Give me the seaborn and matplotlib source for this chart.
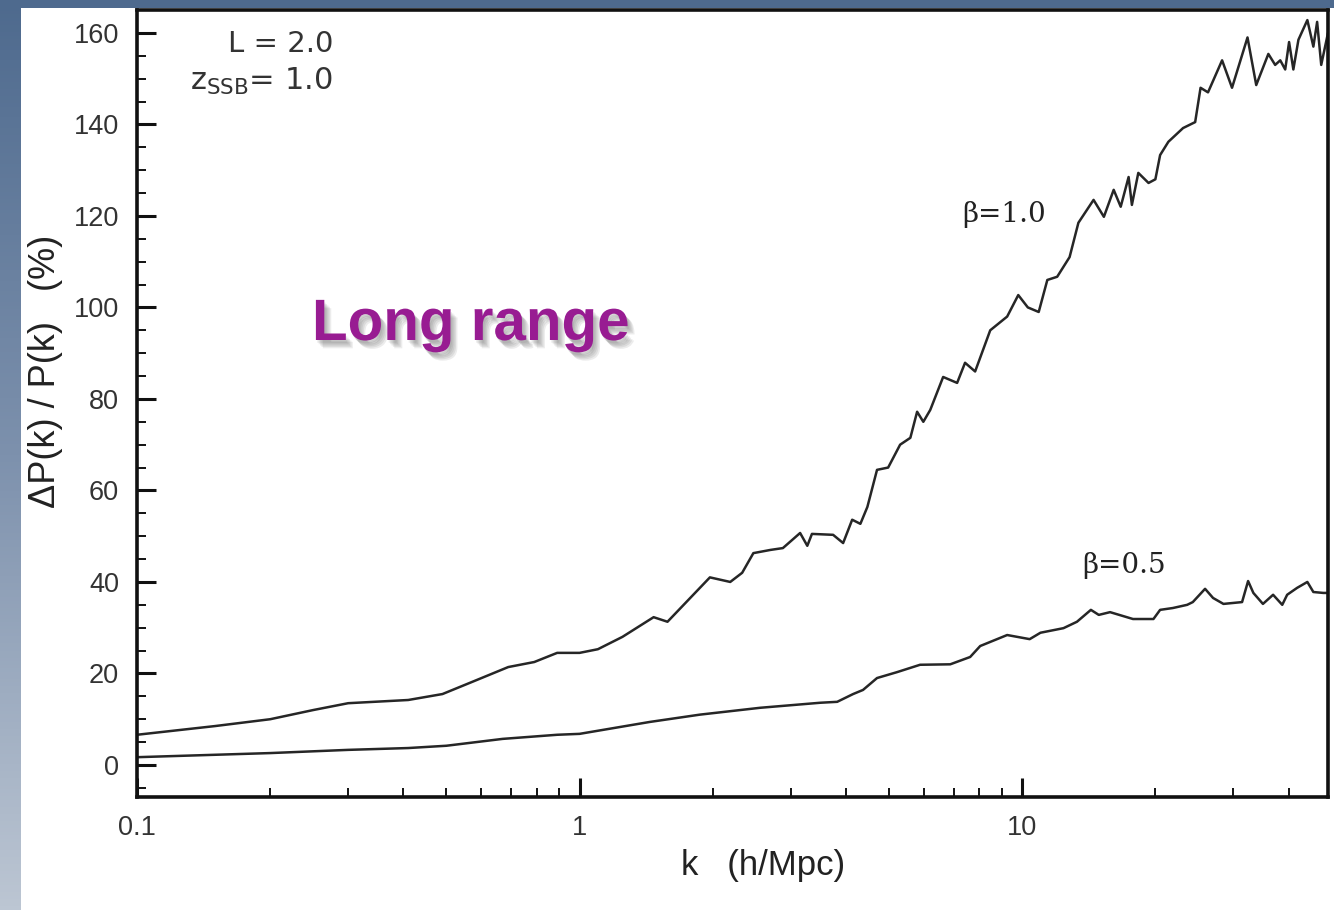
import numpy as np
import pandas as pd
import matplotlib
matplotlib.use("Agg")
import matplotlib.pyplot as plt
import matplotlib.ticker as mticker
import matplotlib.patheffects as pe
from matplotlib.patches import Rectangle
from matplotlib.colors import LinearSegmentedColormap
import seaborn as sns

# ---------------- data ----------------
k_beta10 = [0.10, 0.15, 0.20, 0.25, 0.30, 0.41, 0.49, 0.57, 0.69, 0.79, 0.89, 1.00,
            1.10, 1.25, 1.47, 1.58, 1.97, 2.19, 2.33, 2.47, 2.70, 2.88, 3.15, 3.27,
            3.35, 3.74, 3.94, 4.13, 4.31, 4.47, 4.70, 4.98, 5.30, 5.59, 5.79, 5.98,
            6.20, 6.63, 7.13, 7.43, 7.83, 8.47, 9.25, 9.80, 10.3, 10.9, 11.4, 12.0,
            12.8, 13.4, 14.5, 15.3, 16.1, 16.7, 17.4, 17.7, 18.3, 19.3, 20.0, 20.5,
            21.4, 23.1, 24.6, 25.3, 26.3, 28.3, 29.8, 32.3, 33.8, 36.0, 37.3, 38.3,
            39.3, 40.1, 41.0, 42.1, 44.1, 45.5, 46.4, 47.4, 49.1]
dp_beta10 = [6.6, 8.5, 10.0, 12.0, 13.5, 14.2, 15.5, 18.1, 21.4, 22.5, 24.5, 24.5,
             25.3, 28.0, 32.3, 31.3, 41.0, 40.0, 42.0, 46.3, 47.0, 47.4, 50.7, 47.9,
             50.5, 50.3, 48.5, 53.6, 52.7, 56.4, 64.5, 65.0, 70.0, 71.5, 77.2, 75.0,
             77.6, 84.8, 83.5, 87.9, 86.0, 95.0, 98.0, 102.7, 100.0, 99.0, 106.0, 106.7,
             111.0, 118.5, 123.5, 119.8, 125.7, 122.0, 128.5, 122.4, 129.4, 127.2, 128.0, 133.3,
             136.2, 139.2, 140.5, 148.0, 147.0, 154.0, 148.0, 159.0, 148.6, 155.4, 153.0, 154.0,
             152.0, 158.0, 152.0, 158.5, 162.8, 157.0, 162.4, 153.0, 160.0]

k_beta05 = [0.10, 0.20, 0.30, 0.41, 0.50, 0.67, 0.89, 1.00, 1.44, 1.87, 2.56, 3.50,
            3.82, 4.15, 4.37, 4.70, 5.22, 5.88, 6.88, 7.63, 8.04, 9.25, 10.4, 11.0,
            12.4, 13.3, 14.3, 14.9, 15.8, 17.8, 19.8, 20.5, 21.9, 23.6, 24.3, 25.9,
            27.0, 28.5, 31.4, 32.4, 33.3, 35.0, 36.9, 38.7, 39.7, 41.8, 44.1, 45.5,
            47.9, 49.1]
dp_beta05 = [1.7, 2.6, 3.3, 3.7, 4.2, 5.7, 6.6, 6.8, 9.4, 11.0, 12.5, 13.6,
             13.8, 15.5, 16.4, 19.0, 20.3, 21.9, 22.0, 23.6, 26.0, 28.4, 27.5, 28.9,
             29.9, 31.3, 33.9, 32.8, 33.4, 31.9, 31.9, 33.9, 34.3, 35.0, 35.6, 38.5,
             36.5, 35.2, 35.6, 40.2, 37.6, 35.2, 37.2, 35.0, 37.2, 38.7, 40.0, 37.8,
             37.6, 37.6]

series_labels = ["β=1.0", "β=0.5"]
label_k = [7.31, 13.7]
label_dp = [118.7, 42.0]

x_tick_values = [0.1, 1, 10]
x_tick_labels = ["0.1", "1", "10"]
y_tick_values = [0, 20, 40, 60, 80, 100, 120, 140, 160]
y_tick_labels = ["0", "20", "40", "60", "80", "100", "120", "140", "160"]

x_label = "k   (h/Mpc)"
y_label = "ΔP(k) / P(k)   (%)"
param_line1 = "L = 2.0"
param_line2 = r"z$_{\mathrm{SSB}}$= 1.0"
overlay_text = "Long range"

# ---------------- figure ----------------
sns.set_theme(style="ticks")
plt.rcParams['font.family'] = ['Liberation Sans', 'DejaVu Sans']

W, H, DPI = 1334, 910, 100
fig = plt.figure(figsize=(W / DPI, H / DPI), dpi=DPI)


def fx(x):
    return x / W


def fy(y):
    return 1 - y / H


# slide background: blue gradient with white panel
bg = fig.add_axes([0, 0, 1, 1], zorder=-10)
grad = np.linspace(0, 1, 256).reshape(-1, 1)
cmap = LinearSegmentedColormap.from_list('bg', ['#4e6a8e', '#7d91ad', '#bcc6d3'])
bg.imshow(grad, aspect='auto', cmap=cmap, extent=[0, W, H, 0])
bg.add_patch(Rectangle((21, 8), W - 21, H - 8, facecolor='white', edgecolor='none'))
bg.set_xlim(0, W)
bg.set_ylim(H, 0)
bg.axis('off')

ax = fig.add_axes([fx(137), fy(797), (1328 - 137) / W, (797 - 10) / H])
ax.set_facecolor('white')

df = pd.concat([
    pd.DataFrame({'k': k_beta10, 'dp': dp_beta10, 'beta': series_labels[0]}),
    pd.DataFrame({'k': k_beta05, 'dp': dp_beta05, 'beta': series_labels[1]}),
])
sns.lineplot(data=df, x='k', y='dp', hue='beta',
             palette={series_labels[0]: '#262626', series_labels[1]: '#262626'},
             estimator=None, sort=False, legend=False, linewidth=1.8, ax=ax)
for ln in ax.lines:
    ln.set_solid_joinstyle('round')

ax.set_xscale('log')
ax.set_xlim(0.1, 49.1)
ax.set_ylim(-7, 165)

ax.xaxis.set_major_locator(mticker.FixedLocator(x_tick_values))
ax.xaxis.set_major_formatter(mticker.FixedFormatter(x_tick_labels))
ax.xaxis.set_minor_locator(mticker.LogLocator(base=10, subs=np.arange(2, 10), numticks=20))
ax.xaxis.set_minor_formatter(mticker.NullFormatter())
ax.yaxis.set_major_locator(mticker.FixedLocator(y_tick_values))
ax.yaxis.set_major_formatter(mticker.FixedFormatter(y_tick_labels))
ax.yaxis.set_minor_locator(mticker.MultipleLocator(5))

ax.tick_params(which='major', direction='in', length=14, width=2.2, color='#111111',
               labelsize=19.5, labelcolor='#333333', pad=13)
ax.tick_params(which='minor', direction='in', length=6.5, width=1.4, color='#111111')
ax.tick_params(top=False, right=False, which='both')

for s in ax.spines.values():
    s.set_visible(True)
    s.set_linewidth(2.6)
    s.set_color('#111111')
ax.grid(False)

ax.set_xlabel(x_label, fontsize=25, color='#222222')
ax.xaxis.set_label_coords((763 - 137) / 1191, (797 - 865) / 787)
ax.xaxis.label.set_va('center')
ax.set_ylabel(y_label, fontsize=26, color='#222222')
ax.yaxis.set_label_coords((46 - 137) / 1191, (797 - 371) / 787)
ax.yaxis.label.set_va('center')

# series labels
for lab, kx, dy in zip(series_labels, label_k, label_dp):
    ax.text(kx, dy, lab, fontsize=20, family='DejaVu Serif', color='#222222',
            ha='left', va='baseline')

# parameter text
fig.text(fx(333), fy(52), param_line1, fontsize=21, family='DejaVu Sans',
         color='#333333', ha='right', va='baseline')
fig.text(fx(333), fy(90), param_line2, fontsize=22, family='DejaVu Sans',
         color='#333333', ha='right', va='baseline')

# overlay text with soft shadow
shadow = [pe.SimplePatchShadow(offset=(o, -o - 1), shadow_rgbFace='#555555', alpha=0.11)
          for o in (1.0, 2.0, 3.0, 4.0, 5.0)]
fig.text(fx(312), fy(340), overlay_text, fontsize=42, fontweight='bold',
         family='Liberation Sans', color='#981c92', ha='left', va='baseline',
         path_effects=shadow + [pe.Normal()])

fig.savefig('out.png', dpi=DPI)
